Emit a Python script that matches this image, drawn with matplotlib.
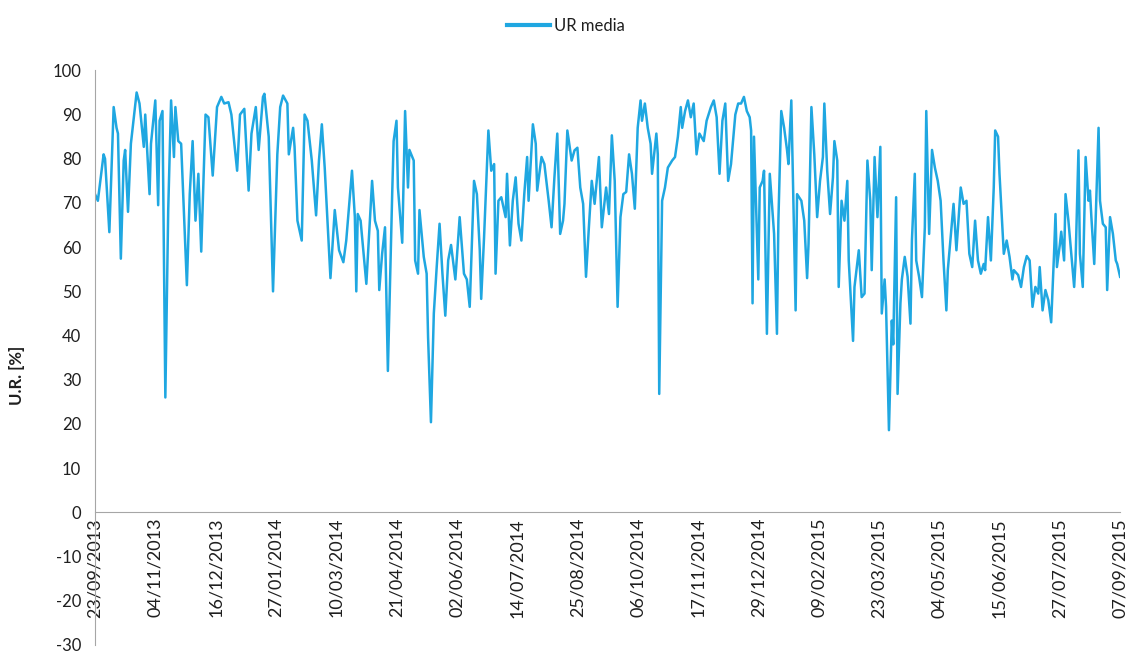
import numpy as np
import matplotlib.pyplot as plt
import matplotlib.dates as mdates

# days since 23/09/2013 and the mean relative humidity
day_offset = [
    0, 2, 6, 7, 10, 13, 15, 16, 18, 20, 21, 23, 25, 29, 31, 34, 35, 38, 39, 42,
    44, 45, 47, 49, 51, 53, 55, 56, 58, 60, 64, 66, 68, 70, 72, 74, 77, 79, 82, 85,
    88, 90, 93, 95, 99, 101, 104, 107, 109, 112, 114, 117, 118, 121, 124, 127, 129, 131, 134, 135,
    138, 139, 141, 144, 146, 148, 151, 154, 156, 158, 160, 164, 167, 170, 173, 175,
    179, 181, 182, 183, 185, 189, 193, 195, 197, 198, 200, 202, 204, 207, 208, 210, 211, 214, 216, 218,
    219, 222, 223, 225, 226, 229, 231, 232, 234, 236, 238, 240, 242, 244, 246, 248, 251, 254, 257, 259,
    261, 264,
    266, 268, 269, 271, 274, 276, 278, 279, 281, 283, 286, 287, 289, 291, 293, 295, 297, 299, 301, 302,
    305, 307, 308, 311, 313, 316, 318, 320, 322, 324, 326, 327, 329, 332, 334, 336, 338, 340, 342, 344,
    346, 348, 351, 353, 356,
    358, 360, 362, 364, 366, 368, 370, 372, 374, 376, 378, 380, 381, 383, 385, 387, 388, 391, 392, 393,
    395, 397, 399, 402, 404, 406, 408, 409, 411, 413, 415, 417, 419, 421, 424, 426, 429, 431, 433, 435,
    437, 439, 441, 443, 446, 448,
    450, 452, 454, 456, 457, 458, 459, 462, 463, 465, 466, 468, 470, 471, 473, 475, 476, 478, 480, 482,
    483, 485, 486, 488, 489, 492, 494, 496, 497, 499, 501, 503, 505, 507, 508, 510, 512, 514, 515, 517,
    518, 520, 522, 524, 525, 528, 529, 532, 534, 536, 538,
    540, 541, 543, 545, 547, 548, 550, 551, 553, 555, 556, 558, 559, 561, 562, 564, 566, 568, 569, 571,
    572, 574, 576, 578, 579, 581, 583, 585, 587, 589, 591, 593, 594, 596, 598, 600, 603, 605, 607, 609,
    611, 613, 615, 617, 619, 620, 622, 624, 626, 627, 629,
    630, 632, 633, 635, 637, 639, 640, 643, 645, 647, 649, 651, 653, 655, 657, 658, 660, 662, 664, 666,
    668, 669, 670, 672, 673, 675, 676, 678, 680, 682, 683, 685, 686, 688, 690, 692, 693, 694, 696, 699,
    700, 702, 704, 705, 707, 709, 711, 712, 714,
]
ur_media = [
    72, 70.5, 81, 80, 63.4, 91.7, 87, 85.7, 57.4, 79.6, 82, 68, 83.4, 95, 92.5, 82.7, 90, 72, 83.4, 93.2,
    69.5, 88.6, 90.8, 26, 68.4, 93.2, 80.4, 91.7, 84, 83.4, 51.4, 72, 84, 66, 76.6, 59, 90, 89.4, 76.2, 91.7,
    94, 92.5, 92.8, 90, 77.3, 90, 91.3, 72.8, 85.7, 91.7, 82, 94, 94.7, 85, 50, 81, 91.7, 94.3, 92.5, 81,
    87, 82.7, 66, 61.5, 90, 88.6, 79.6, 67.2, 79.6, 87.8, 78, 53, 68.4, 59.3, 56.6, 61.5,
    77.3, 66.8, 50, 67.5, 66, 51.7, 75, 66, 63.7, 50.3, 58.5, 64.5, 32, 72, 84, 88.6, 73.5, 61, 90.8, 73.5,
    82, 79.6, 57, 54, 68.4, 57.8, 54, 39.6, 20.4, 45, 55.5, 65.3, 54, 44.5, 57, 60.5, 52.7, 66.8, 54, 52.7,
    46.5, 75,
    72, 59.3, 48.3, 62.3, 86.4, 77.3, 78.8, 54, 70.5, 71.3, 66.8, 76.6, 60.4, 70.5, 75.8, 65.3, 61.5, 72, 80.4, 70.5,
    87.8, 83.4, 72.8, 80.4, 78.8, 70.5, 64.5, 75.8, 85.7, 63, 66, 69.8, 86.4, 79.6, 81.9, 82.5, 73.5, 69.8, 53.3, 64.5,
    75, 69.8, 80.4, 64.5, 73.5,
    67.5, 85.3, 75, 46.5, 66.8, 72, 72.5, 81, 76.6, 68.7, 87, 93.2, 88.6, 92.5, 87, 83.4, 76.6, 85.7, 81, 26.8,
    70.5, 73.5, 78, 79.6, 80.4, 85, 91.7, 87, 90.8, 93.2, 89.4, 92.5, 81, 85.7, 84, 88.6, 91.7, 93.2, 89.4, 76.6,
    88.6, 92.5, 75, 78.8, 90, 92.5,
    92.5, 94, 90.8, 89.4, 86.4, 47.3, 85, 52.7, 73.5, 75, 77.3, 40.4, 76.6, 72, 63, 40.4, 66, 90.8, 87, 82,
    78.8, 93.2, 77.3, 45.7, 72, 70.5, 66, 53, 60.8, 91.7, 81, 66.8, 75, 80.4, 92.5, 77.3, 67.5, 75.8, 84, 79.6,
    51, 70.5, 66, 75, 57, 38.8, 51, 59.3, 48.7, 49.5, 79.6,
    70.5, 54.8, 80.4, 66.8, 82.7, 45, 52.7, 46.5, 18.6, 43.4, 38, 71.3, 26.8, 47.3, 52.7, 57.8, 53.3, 42.7, 61.5, 76.6,
    57, 53.3, 48.7, 64.5, 90.8, 63, 82, 78, 75, 70.5, 57, 45.7, 54.8, 62.3, 69.8, 59.3, 73.5, 69.8, 70.5, 58.5,
    55.5, 66, 57, 54, 56.2, 54.8, 66.8, 57, 73.5, 86.4, 85,
    76.6, 64.5, 58.5, 61.5, 57.8, 52.7, 54.8, 53.7, 51, 55.5, 58, 57, 46.5, 51, 49.5, 55.5, 45.7, 50.3, 48, 43,
    58.5, 67.5, 55.5, 60.5, 63.5, 57, 72, 66, 58.5, 51, 57, 81.9, 58.5, 51, 80.4, 70.5, 72.8, 66.8, 56.2, 87,
    70.5, 65.3, 64.5, 50.3, 66.8, 63, 57, 56.2, 53.3,
]
series_name = "UR media"
y_ticks = list(range(-30, 101, 10))

start = np.datetime64("2013-09-23")
dates = start + np.array(day_offset).astype("timedelta64[D]")
tick_dates = start + np.arange(0, 715, 42).astype("timedelta64[D]")

plt.rcParams["font.family"] = ["Lato", "DejaVu Sans"]
plt.rcParams["axes.unicode_minus"] = False  # plain hyphen like the original
txt = "#1f1f1f"
grey = "#A6A6A6"

fig = plt.figure(figsize=(11.39, 6.62), dpi=100)
ax = fig.add_axes([0.0834, 0.0257, 0.9, 0.868])

ax.plot(dates, ur_media, color="#1fa7e1", lw=1.8, label=series_name)

ax.set_ylim(-30, 100)
ax.set_xlim(dates[0], dates[-1])
ax.set_yticks(y_ticks)
ax.set_xticks(tick_dates)
ax.xaxis.set_major_formatter(mdates.DateFormatter("%d/%m/%Y"))

# x axis crosses at zero like the Excel original
ax.spines["bottom"].set_position(("data", 0))
ax.spines["bottom"].set_color(grey)
ax.spines["left"].set_color(grey)
ax.spines["top"].set_visible(False)
ax.spines["right"].set_visible(False)

ax.tick_params(axis="x", length=0, pad=4, labelsize=13, labelcolor=txt, labelrotation=90)
ax.tick_params(axis="y", length=0, pad=10, labelsize=12, labelcolor=txt)

ax.set_ylabel("U.R. [%]", fontsize=12, fontweight="bold", color=txt)
ax.yaxis.set_label_coords(-0.068, 0.47)

fig.legend(loc="upper center", bbox_to_anchor=(0.497, 0.995), frameon=False,
           fontsize=12, handlelength=2.6, handletextpad=0.25, labelcolor=txt)
for h in fig.legends[0].legend_handles:
    h.set_linewidth(3)

fig.savefig("out.png", dpi=100)
